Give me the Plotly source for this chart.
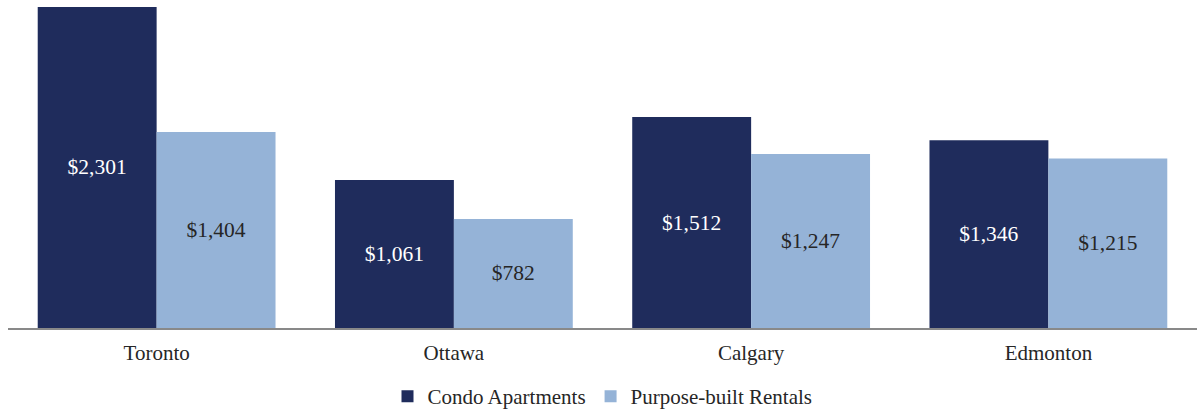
import plotly.graph_objects as go

cities = ["Toronto", "Ottawa", "Calgary", "Edmonton"]
condo = [2301, 1061, 1512, 1346]
rentals = [1404, 782, 1247, 1215]

FONT = "Liberation Serif"

fig = go.Figure()
fig.add_trace(go.Bar(
    x=cities, y=condo, name="Condo Apartments",
    marker=dict(color="#1F2C5C", line=dict(width=0)),
    text=[f"${v:,}" for v in condo], textposition="inside",
    insidetextanchor="middle",
    textfont=dict(color="white", size=21.5, family=FONT, shadow="none"),
))
fig.add_trace(go.Bar(
    x=cities, y=rentals, name="Purpose-built Rentals",
    marker=dict(color="#95B3D7", line=dict(width=0)),
    text=[f"${v:,}" for v in rentals], textposition="inside",
    insidetextanchor="middle",
    textfont=dict(color="#262626", size=21.5, family=FONT, shadow="none"),
))
fig.update_layout(
    width=1197, height=411,
    margin=dict(l=8, r=0, t=0, b=83, autoexpand=False),
    barmode="group", bargap=0.2, bargroupgap=0,
    plot_bgcolor="white", paper_bgcolor="white",
    font=dict(family=FONT, size=21, color="#262626"),
    xaxis=dict(showline=True, linecolor="#898989", linewidth=2,
               ticks="", ticklabelstandoff=5, automargin=False,
               tickfont=dict(size=21, family=FONT, color="#262626"),
               showgrid=False),
    yaxis=dict(range=[0, 2351], visible=False, showgrid=False, automargin=False),
    legend=dict(orientation="h", x=0.5, xanchor="center",
                yref="container", y=0.085, yanchor="top",
                font=dict(size=21, family=FONT, color="#262626"),
                itemwidth=30, traceorder="normal"),
    showlegend=True,
)
fig.write_html("out.html", config={"displayModeBar": False})

with open("out.html", encoding="utf-8") as f:
    html = f.read()
html = html.replace("<body>", '<body style="margin:0;padding:0;">', 1)
with open("out.html", "w", encoding="utf-8") as f:
    f.write(html)
